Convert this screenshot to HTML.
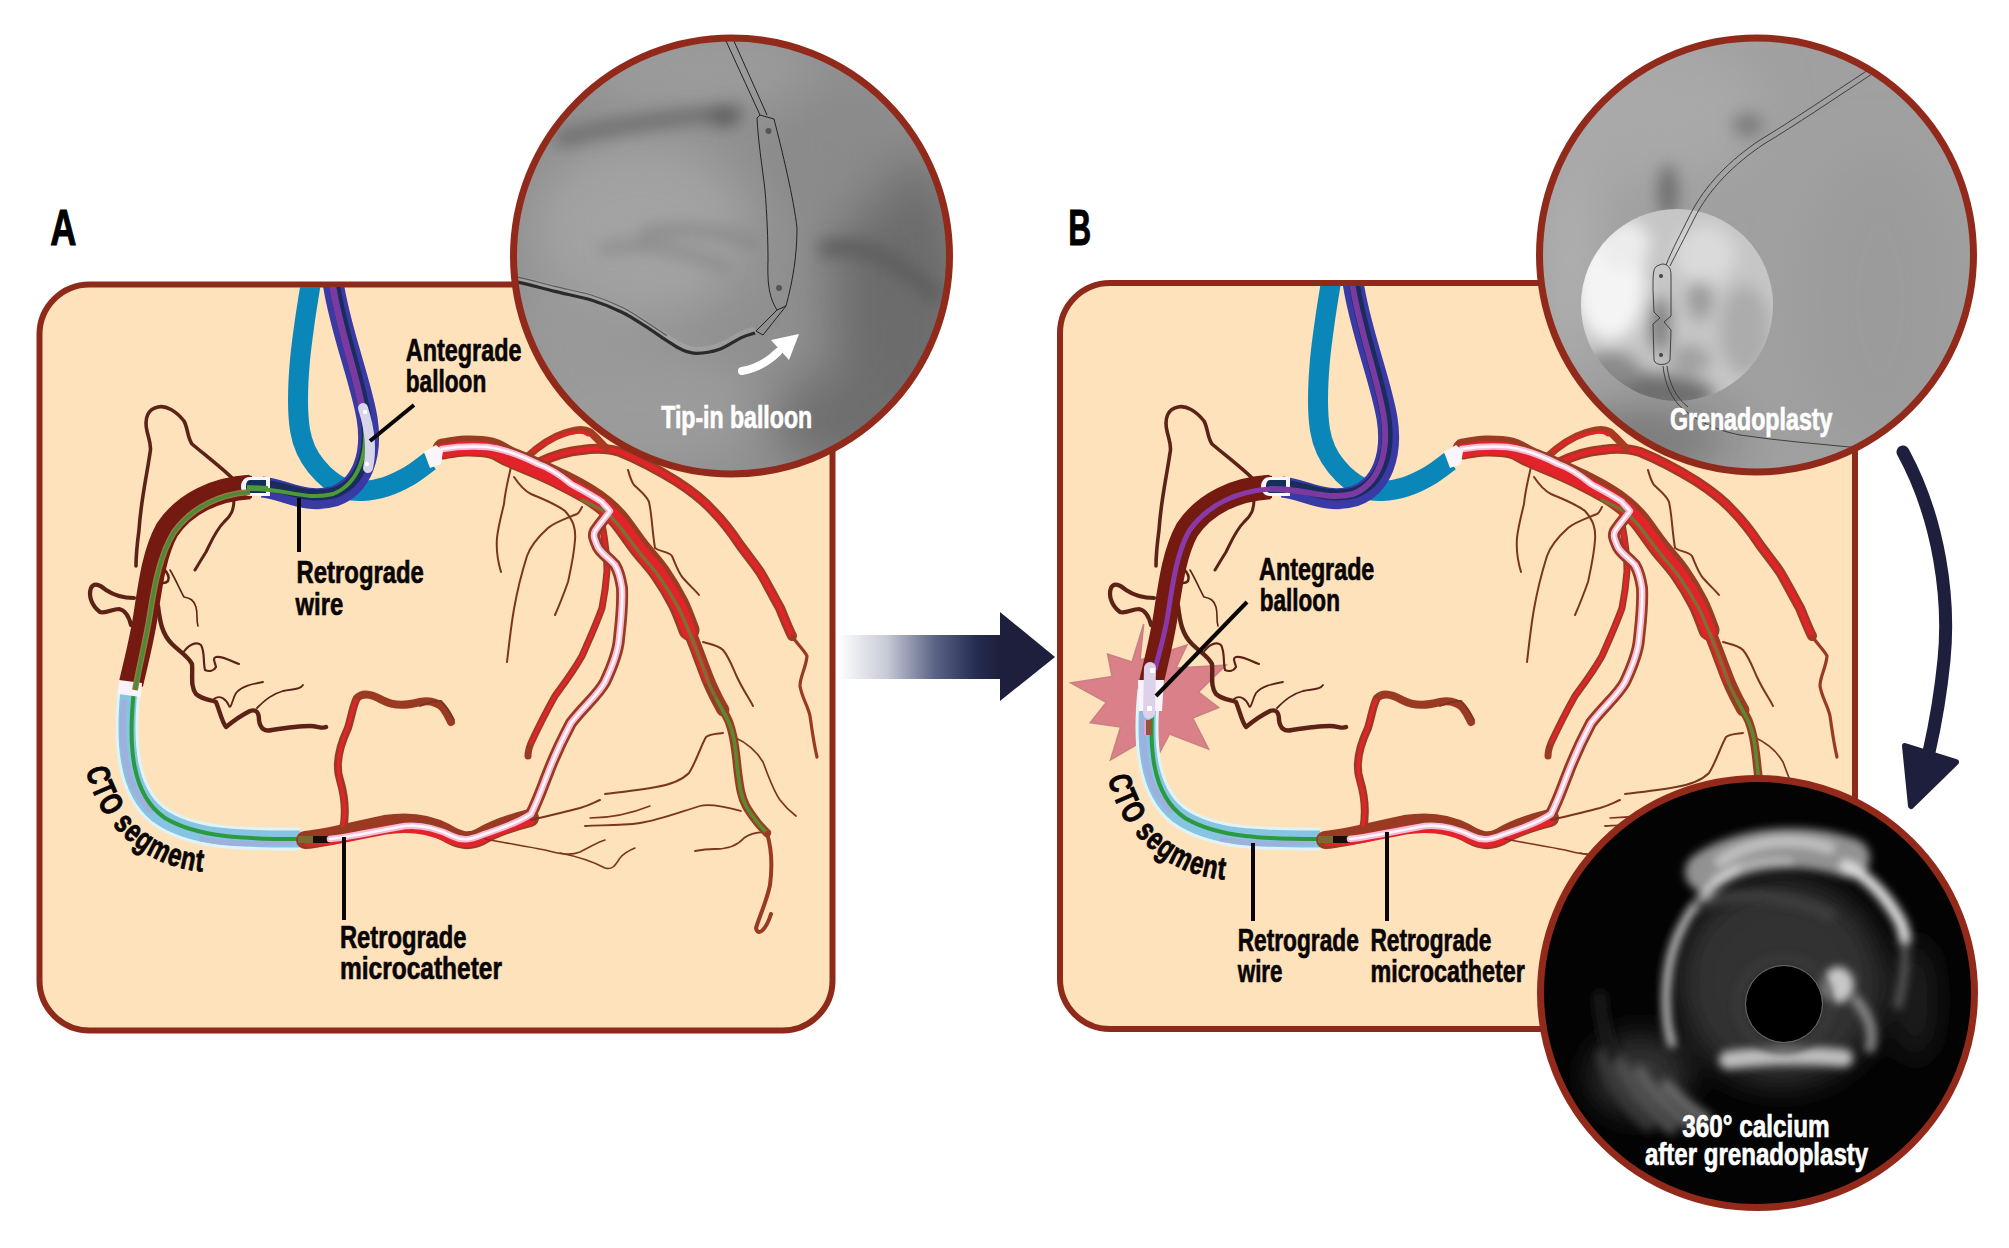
<!DOCTYPE html>
<html><head><meta charset="utf-8"><style>
html,body{margin:0;padding:0;background:#fff;width:2009px;height:1248px;overflow:hidden}
svg{display:block}
text{font-family:"Liberation Sans",sans-serif;font-weight:bold}
</style></head><body>
<svg width="2009" height="1248" viewBox="0 0 2009 1248">
<defs>
  <linearGradient id="arrg" x1="838" y1="0" x2="1000" y2="0" gradientUnits="userSpaceOnUse">
    <stop offset="0" stop-color="#ffffff"/>
    <stop offset="0.3" stop-color="#c8cad6"/>
    <stop offset="0.6" stop-color="#5a6386"/>
    <stop offset="0.85" stop-color="#262c52"/>
    <stop offset="1" stop-color="#1e1f3c"/>
  </linearGradient>
  <clipPath id="clipA"><circle cx="731.5" cy="256" r="218"/></clipPath>
  <clipPath id="clipB"><circle cx="1756.5" cy="255" r="217"/></clipPath>
  <clipPath id="clipC"><ellipse cx="1757.5" cy="993" rx="217" ry="214.5"/></clipPath>
  <clipPath id="clipPA"><rect x="42" y="287" width="788" height="740" rx="47"/></clipPath>
  <clipPath id="clipPB"><rect x="1063" y="286" width="789" height="740" rx="47"/></clipPath>
  <filter id="blur3" x="-50%" y="-50%" width="200%" height="200%"><feGaussianBlur stdDeviation="2.5"/></filter>
  <filter id="blur4" x="-50%" y="-50%" width="200%" height="200%"><feGaussianBlur stdDeviation="4"/></filter>
  <filter id="blur5" x="-50%" y="-50%" width="200%" height="200%"><feGaussianBlur stdDeviation="5"/></filter>
  <filter id="blur8" x="-50%" y="-50%" width="200%" height="200%"><feGaussianBlur stdDeviation="8"/></filter>
  <filter id="blur15" x="-50%" y="-50%" width="200%" height="200%"><feGaussianBlur stdDeviation="15"/></filter>
  <filter id="blur25" x="-50%" y="-50%" width="200%" height="200%"><feGaussianBlur stdDeviation="25"/></filter>
</defs>
<rect width="2009" height="1248" fill="#fff"/>
<rect x="39.5" y="284.5" width="793" height="746" rx="50" fill="#fde2bb" stroke="#8e2a1a" stroke-width="6"/>
<rect x="1060" y="283" width="795" height="746" rx="50" fill="#fde2bb" stroke="#8e2a1a" stroke-width="6"/>
<defs><g id="ves">
<!-- thin RCA branches (dark brown) -->
<g fill="none" stroke="#5c2216" stroke-linecap="round" stroke-linejoin="round">
  <path d="M232,478 C222,468 205,455 192,444 C187,437 188,428 184,421 C176,411 166,405 158,407 C148,409 144,418 147,431 C149,440 152,446 150,453 C146,480 141,500 139,530 C137,545 136,555 136,566" stroke-width="3.6"/>
  <path d="M234,499 C234,510 231,516 224,522 C216,530 212,540 206,552 C201,560 198,565 195,570" stroke-width="3"/>
  <path d="M134,598 C125,598 115,596 106,590 C100,585 94,582 91,588 C88,596 92,606 100,612 C106,614 112,609 119,609 C125,610 129,617 131,625" stroke-width="4.2"/>
  <path d="M158,606 C160,622 162,634 172,644 C180,652 188,656 192,664 C193,675 190,686 196,694 C203,700 212,700 216,702 C220,712 222,722 226,727 C232,722 240,716 250,711 C256,709 259,712 259,720 C260,728 264,732 272,730 C285,728 298,726 310,726 C318,726 322,729 326,727" stroke-width="4.4"/>
  <path d="M183,653 C188,645 196,641 201,645 C205,652 203,662 205,670 C209,672 214,671 216,667 C215,662 212,658 216,657 C224,656 232,662 239,664" stroke-width="2.2"/>
  <path d="M214,699 C220,694 227,700 229,706 C231,710 232,700 236,693 C242,686 252,684 263,682" stroke-width="1.8"/>
  <path d="M257,708 C265,700 272,694 283,691 C292,689 300,690 303,685" stroke-width="1.8"/>
  <path d="M163,568 C167,572 170,577 168,581 C165,584 161,583 160,582" stroke-width="2.5"/>
  <path d="M170,570 C176,580 180,590 184,597 C190,598 194,600 196,607 C198,615 196,620 198,626" stroke-width="1.6"/>
</g>
<!-- RCA main -->
<path d="M250,487 C216,489 185,503 167,530 C155,552 151,580 146,613 C142,640 136,662 131,684" fill="none" stroke="#741a10" stroke-width="24.5" stroke-linecap="butt"/>
<path d="M232,478 C240,476 246,475 252,476 L252,498 C246,499 240,499 232,497 Z" fill="#741a10"/>
<!-- CTO segment -->
<path d="M129,690 C124,740 126,790 158,815 C192,840 245,839 300,839" fill="none" stroke="#dff4f8" stroke-width="23"/>
<path d="M129,690 C124,740 126,790 158,815 C192,840 245,839 300,839" fill="none" stroke="#86c4e2" stroke-width="17"/>
<path d="M124,700 C120,745 124,788 152,812" fill="none" stroke="#9fb0dc" stroke-width="6"/>
<path d="M200,839 C230,845 260,844 295,842" fill="none" stroke="#9fb0dc" stroke-width="5"/>
<path d="M134,690 C128,745 131,795 165,818 C198,838 248,839 300,839" fill="none" stroke="#2b9a3e" stroke-width="4"/>
<!-- white bands -->
<path d="M119,680 L142,683 L141,697 L118,694 Z" fill="#fbf2fa"/>
<!-- septal + PDA red path with microcatheter -->
<g fill="none" stroke-linecap="round" stroke-linejoin="round">
  <!-- second thinner red vessel (left of septal) -->
  <path d="M602,524 C605,540 607,555 607,571 C606,585 604,598 602,608 C596,625 589,640 582,656 C573,672 563,685 555,696 C546,712 538,728 531,743 C529,748 528,752 528,756" stroke="#9a3a22" stroke-width="7"/>
  <path d="M602,526 C605,540 607,555 607,571 C606,585 604,598 602,608 C596,625 589,640 582,656 C573,672 563,685 555,696 C546,712 538,728 531,743" stroke="#e2242a" stroke-width="3.5"/>
  <!-- septal with microcatheter -->
  <path d="M610,511 C606,517 600,523 595,531 C593,535 594,538 597,545 C599,552 608,557 615,565 C618,570 620,575 622,588 C623,605 621,620 619,639 C618,652 613,665 605,682 C598,695 585,705 571,723 C563,738 556,752 548,773 C542,788 538,800 531,814" stroke="#9a3a22" stroke-width="12"/>
  <path d="M610,511 C606,517 600,523 595,531 C593,535 594,538 597,545 C599,552 608,557 615,565 C618,570 620,575 622,588 C623,605 621,620 619,639 C618,652 613,665 605,682 C598,695 585,705 571,723 C563,738 556,752 548,773 C542,788 538,800 531,814" stroke="#e2242a" stroke-width="6"/>
  <!-- thick posterior red -->
  <path d="M305,840 C330,838 355,830 385,824 C410,820 430,824 445,832 C458,840 468,843 480,837 C495,828 510,823 530,818" stroke="#9a3a22" stroke-width="18"/>
  <path d="M308,842 C330,842 355,836 385,830 C410,826 430,830 445,837 C458,843 468,845 480,840 C495,832 510,826 530,821" stroke="#e2242a" stroke-width="9"/>
  <!-- PDA upward -->
  <path d="M343,830 C346,815 346,800 340,780 C335,765 340,745 348,728 C352,715 353,705 357,698 C362,693 370,693 382,700 C395,707 408,705 420,702 C430,700 437,702 443,708 C447,713 449,718 451,722" stroke="#9a3a22" stroke-width="8"/>
  <path d="M343,825 C346,812 345,800 340,782 C336,765 340,745 347,730 C351,718 352,708 356,700" stroke="#e2242a" stroke-width="3.5"/>
</g>
<!-- microcatheter tip -->
<path d="M298,836 L313,836 L313,843 L298,843 Z" fill="#7a6a30"/>
<path d="M313,836 L330,836 L330,843 L313,843 Z" fill="#1a0a08"/>
<!-- LCA thin branches -->
<g fill="none" stroke="#7a3420" stroke-linecap="round" stroke-linejoin="round" stroke-width="2">
  <path d="M511,467 C508,480 505,492 504,504 C501,516 498,528 497,538 C496,550 498,562 501,572"/>
  <path d="M514,477 C520,486 525,491 531,494 C545,500 556,504 565,511 C573,520 576,528 575,540 C574,555 571,568 568,582 C563,596 559,606 555,615"/>
  <path d="M582,507 C580,511 579,513 577,514 C565,519 555,522 548,528 C538,537 531,545 527,556 C521,575 517,592 514,609 C511,626 509,645 507,662"/>
  <path d="M628,470 C630,477 631,481 634,485 C640,491 646,495 649,502 C652,515 652,530 655,548 C660,552 668,551 672,556 C676,565 678,572 683,578 C690,586 695,590 699,595"/>
  <path d="M703,642 C710,644 718,645 723,650 C729,657 732,666 737,677 C743,690 749,698 753,706"/>
  <path d="M723,733 C716,734 710,734 706,737 C700,748 696,762 689,773 C680,782 668,785 656,787 C640,790 622,792 605,794"/>
  <path d="M734,737 C745,742 756,750 763,762 C768,775 773,790 780,800 C786,808 792,813 796,816" stroke-width="1.7"/>
  <path d="M531,820 C548,816 565,812 580,808 C590,805 595,802 600,800"/>
  <path d="M485,839 C505,843 525,846 545,850 C560,854 570,856 580,852 C590,847 598,842 605,840" stroke-width="1.6"/>
  <path d="M560,853 C575,856 590,860 605,868 C612,870 615,866 620,858 C625,852 630,850 635,848" stroke-width="1.5"/>
  <path d="M590,818 C610,818 630,814 650,806" stroke-width="1.4"/>
  <path d="M420,706 C428,703 435,700 441,701 C446,706 450,712 454,720" stroke-width="1.8"/>
  <path d="M741,811 C730,808 712,803 700,806 C680,812 660,820 640,823 C620,826 600,825 585,826" stroke-width="1.8"/>
  <path d="M767,832 C760,832 750,833 744,838 C738,845 730,849 715,849 C705,849 700,850 695,851" stroke-width="1.8"/>
</g>
<!-- main outer vessel -->
<path d="M540,462 C555,455 570,451 582,450 C595,448 608,448 620,452 C640,460 658,470 676,481 C693,492 705,502 713,511 C724,522 732,533 740,545 C748,556 754,563 760,572 C768,585 774,598 780,608 C785,620 788,628 792,636" fill="none" stroke="#a03a22" stroke-width="10" stroke-linecap="round"/>
<path d="M540,462 C555,455 570,451 582,450 C595,448 608,448 620,452 C640,460 658,470 676,481 C693,492 705,502 713,511 C724,522 732,533 740,545 C748,556 754,563 760,572 C768,585 774,598 780,608 C785,620 788,628 792,636" fill="none" stroke="#e2242a" stroke-width="5" stroke-linecap="round"/>
<path d="M792,636 C798,645 804,650 807,656 C806,668 800,676 800,686 C802,698 808,706 810,716 C812,730 814,745 817,757" fill="none" stroke="#9a3a22" stroke-width="3.2" stroke-linecap="round"/>
<!-- upper loop branch -->
<path d="M527,457 C540,445 552,437 565,433 C575,430 583,428 590,432 C596,437 600,442 606,448" fill="none" stroke="#a83a22" stroke-width="7.5" stroke-linecap="round"/>
<path d="M533,451 C545,442 556,436 567,434 C576,432 583,431 588,435" fill="none" stroke="#e2242a" stroke-width="3" stroke-linecap="round"/>
<!-- LAD -->
<path d="M443.0,449.0 C446.7,448.5 457.0,446.2 465.0,446.0 C473.0,445.8 483.5,446.2 491.0,448.0 C498.5,449.8 502.5,453.7 510.0,457.0 C517.5,460.3 527.3,464.2 536.0,468.0 C544.7,471.8 553.3,475.7 562.0,480.0 C570.7,484.3 580.8,489.7 588.0,494.0 C595.2,498.3 599.8,501.7 605.0,506.0 C610.2,510.3 613.3,513.2 619.0,520.0 C624.7,526.8 632.2,538.2 639.0,547.0 C645.8,555.8 653.5,563.7 660.0,573.0 C666.5,582.3 673.2,593.5 678.0,603.0 C682.8,612.5 687.2,625.5 689.0,630.0" fill="none" stroke="#9a3c22" stroke-width="21" stroke-linecap="round"/>
<path d="M689.0,630.0 C690.2,633.0 693.8,642.3 696.0,648.0 C698.2,653.7 699.8,658.3 702.0,664.0 C704.2,669.7 706.7,676.5 709.0,682.0 C711.3,687.5 713.7,692.3 716.0,697.0 C718.3,701.7 721.8,707.8 723.0,710.0" fill="none" stroke="#9a3c22" stroke-width="13" stroke-linecap="round"/>
<path d="M723.0,710.0 C724.0,712.0 727.3,717.7 729.0,722.0 C730.7,726.3 731.8,730.5 733.0,736.0 C734.2,741.5 735.2,748.8 736.0,755.0 C736.8,761.2 737.2,766.8 738.0,773.0 C738.8,779.2 739.7,786.5 741.0,792.0 C742.3,797.5 743.3,801.0 746.0,806.0 C748.7,811.0 753.5,817.5 757.0,822.0 C760.5,826.5 765.3,831.2 767.0,833.0" fill="none" stroke="#9a3c22" stroke-width="8.5" stroke-linecap="round"/>
<path d="M443.0,451.0 C446.7,450.5 457.0,448.2 465.0,448.0 C473.0,447.8 483.5,448.2 491.0,450.0 C498.5,451.8 502.5,455.7 510.0,459.0 C517.5,462.3 527.3,466.2 536.0,470.0 C544.7,473.8 553.3,477.7 562.0,482.0 C570.7,486.3 580.8,491.7 588.0,496.0 C595.2,500.3 599.8,503.7 605.0,508.0 C610.2,512.3 613.3,515.2 619.0,522.0 C624.7,528.8 632.2,540.2 639.0,549.0 C645.8,557.8 653.5,565.7 660.0,575.0 C666.5,584.3 673.2,595.5 678.0,605.0 C682.8,614.5 687.2,627.5 689.0,632.0" fill="none" stroke="#e2242a" stroke-width="14" stroke-linecap="round"/>
<path d="M689.0,632.0 C690.2,635.0 693.8,644.3 696.0,650.0 C698.2,655.7 700.2,661.0 702.0,666.0 C703.8,671.0 706.2,677.7 707.0,680.0" fill="none" stroke="#e2242a" stroke-width="7" stroke-linecap="round"/>
<path d="M582.0,500.0 C585.8,502.0 598.8,507.7 605.0,512.0 C611.2,516.3 613.3,519.3 619.0,526.0 C624.7,532.7 632.2,543.3 639.0,552.0 C645.8,560.7 653.5,568.8 660.0,578.0 C666.5,587.2 673.0,597.7 678.0,607.0 C683.0,616.3 686.7,626.2 690.0,634.0 C693.3,641.8 695.7,648.0 698.0,654.0 C700.3,660.0 702.0,664.7 704.0,670.0 C706.0,675.3 707.8,681.0 710.0,686.0 C712.2,691.0 714.7,695.5 717.0,700.0 C719.3,704.5 721.8,708.8 724.0,713.0 C726.2,717.2 728.3,720.5 730.0,725.0 C731.7,729.5 733.0,735.0 734.0,740.0 C735.0,745.0 735.3,749.5 736.0,755.0 C736.7,760.5 737.2,766.8 738.0,773.0 C738.8,779.2 739.7,786.5 741.0,792.0 C742.3,797.5 743.3,801.0 746.0,806.0 C748.7,811.0 753.7,817.7 757.0,822.0 C760.3,826.3 764.5,830.3 766.0,832.0" fill="none" stroke="#7a7034" stroke-width="3.5" stroke-linecap="round"/>
<path d="M717.0,700.0 C718.2,702.2 721.8,708.8 724.0,713.0 C726.2,717.2 728.3,720.5 730.0,725.0 C731.7,729.5 733.0,735.0 734.0,740.0 C735.0,745.0 735.3,749.5 736.0,755.0 C736.7,760.5 737.2,766.8 738.0,773.0 C738.8,779.2 739.7,786.5 741.0,792.0 C742.3,797.5 743.3,801.0 746.0,806.0 C748.7,811.0 753.7,817.7 757.0,822.0 C760.3,826.3 764.5,830.3 766.0,832.0" fill="none" stroke="#5a8a30" stroke-width="3.5" stroke-linecap="round"/>
<!-- LAD tail -->
<path d="M767,833 C772,850 772,870 770,885 C767,900 760,915 756,928 C758,937 766,930 771,914" fill="none" stroke="#9a3a22" stroke-width="4" stroke-linecap="round"/>
<g fill="none" stroke-linecap="round" stroke-linejoin="round">
  <!-- microcatheter pink core -->
  <path d="M330,839 C355,836 380,830 405,826 C425,824 440,830 452,836 C462,841 470,840 482,835 C495,830 515,825 531,814 C538,800 542,788 548,773 C556,752 563,738 571,723 C585,705 598,695 605,682 C613,665 618,652 619,639 C621,620 623,605 622,588 C620,575 618,570 615,565 C608,557 599,552 597,545 C594,538 593,535 595,531 C600,523 606,517 610,511 C606,506 603,504 602,502 C590,494 580,489 571,484 C560,475 550,468 538,464 C520,455 505,449 487,447 C470,446 455,447 442,449" stroke="#f4bcd6" stroke-width="6.5"/>
  <path d="M330,839 C355,836 380,830 405,826 C425,824 440,830 452,836 C462,841 470,840 482,835 C495,830 515,825 531,814 C538,800 542,788 548,773 C556,752 563,738 571,723 C585,705 598,695 605,682 C613,665 618,652 619,639 C621,620 623,605 622,588 C620,575 618,570 615,565 C608,557 599,552 597,545 C594,538 593,535 595,531 C600,523 606,517 610,511 C606,506 603,504 602,502 C590,494 580,489 571,484 C560,475 550,468 538,464 C520,455 505,449 487,447 C470,446 455,447 442,449" stroke="#fff6fb" stroke-width="2.6"/>
</g>
<!-- blue catheter -->
<path d="M311.0,282.0 C310.0,288.3 306.8,307.0 305.0,320.0 C303.2,333.0 301.2,346.7 300.0,360.0 C298.8,373.3 298.0,388.3 298.0,400.0 C298.0,411.7 298.7,421.7 300.0,430.0 C301.3,438.3 303.3,444.0 306.0,450.0 C308.7,456.0 312.0,461.0 316.0,466.0 C320.0,471.0 325.0,476.2 330.0,480.0 C335.0,483.8 340.7,487.2 346.0,489.0 C351.3,490.8 355.5,491.3 362.0,491.0 C368.5,490.7 377.2,489.5 385.0,487.0 C392.8,484.5 401.5,480.3 409.0,476.0 C416.5,471.7 426.5,463.5 430.0,461.0" fill="none" stroke="#0a87b8" stroke-width="20"/>
<!-- navy catheter -->
<path d="M333,282 C340,330 360,378 367,418 C373,455 362,486 335,496 C305,505 285,489 262,487" fill="none" stroke="#3a3aa6" stroke-width="21"/>
<path d="M334,282 C341,330 360,378 366,418 C371,455 360,484 334,493 C305,500 285,486 262,485" fill="none" stroke="#1a2c5c" stroke-width="11"/>
<!-- RCA ostium white cap -->
<path d="M270,477 L250,477 C244,477 241,482 241,486.5 C241,491 244,496 250,496 L270,496" fill="#faf4fb"/>
<path d="M250,480 L266,480 L266,493 L250,493 C247,493 246,490 246,486.5 C246,483 247,480 250,480 Z" fill="#13305a"/>
<!-- LM ostium white cap -->
<path d="M424,452 L436,445 L443,451 L441,464 L430,468 Z" fill="#faf4fb"/>
</g></defs>
<g clip-path="url(#clipPA)"><use href="#ves"/>
<!-- A: purple upper part of navy catheter and green wire in RCA -->
<path d="M250,492 C220,494 192,507 174,532 C161,553 155,581 150,614 C146,640 140,662 135,690" fill="none" stroke="#9a7a4a" stroke-width="6"/>
<path d="M250,492 C220,494 192,507 174,532 C161,553 155,581 150,614 C146,640 140,662 135,690" fill="none" stroke="#4e8a34" stroke-width="3.5"/>
<path d="M332,282 C339,330 358,378 364,418" fill="none" stroke="#7a3aa0" stroke-width="7"/>
<path d="M364,418 C369,455 358,484 333,494 C305,501 285,488 250,489" fill="none" stroke="#4e9a36" stroke-width="4"/>
<path d="M247,487 L268,488" stroke="#4e9a36" stroke-width="4"/>
<!-- antegrade balloon -->
<path d="M363,408 C370,430 372,450 368,468" fill="none" stroke="#d8d4ea" stroke-width="10" stroke-linecap="round"/>
<circle cx="365" cy="412" r="2.2" fill="#fff"/><circle cx="367" cy="464" r="2.2" fill="#fff"/>
<!-- pointers -->
<path d="M370,441 L414,405" stroke="#0a0506" stroke-width="4"/>
<path d="M299,498 L299,552" stroke="#0a0506" stroke-width="4"/>
<path d="M344,837 L344,920" stroke="#0a0506" stroke-width="4"/>
</g>
<g clip-path="url(#clipPB)"><!-- B: star burst -->
<path d="M1143.7,624 L1140,660 L1187,645 L1176,668 L1226,665 L1198.5,692 L1218.7,707.5 L1192.7,718 L1208.6,749 L1169.6,734 L1160,752 L1148,738 L1110.5,760 L1120.6,727 L1090.3,722.6 L1106.2,702.4 L1070.8,683 L1112,676.4 L1107.6,654 L1132,662 Z" fill="#d98088" stroke="#c98080" stroke-width="1.5" stroke-linejoin="miter"/>
<use href="#ves" transform="translate(1020,0)"/>
<!-- purple wire through navy catheter and RCA -->
<path d="M1352,282 C1359,330 1378,378 1384,418 C1389,455 1378,484 1353,494 C1325,501 1305,488 1270,489" fill="none" stroke="#7a3aa0" stroke-width="6"/>
<path d="M1270,489 C1238,491 1208,504 1189,531 C1177,553 1173,581 1168,614 C1164,640 1158,655 1155,670" fill="none" stroke="#8a3aa8" stroke-width="5"/>
<!-- white band & antegrade balloon at CTO -->
<path d="M1138,680 L1164,680 L1162,711 L1139,711 Z" fill="#fbf3fb"/>
<path d="M1150,668 L1149,713" stroke="#ddd2ea" stroke-width="12" stroke-linecap="round"/>
<rect x="1150" y="668" width="5" height="5" fill="#fff"/><rect x="1147" y="706" width="5" height="5" fill="#fff"/>
<path d="M1146,720 L1152,720 L1152,735 L1146,735 Z" fill="#8a5a3a"/>
<path d="M1144,720 L1146,720 L1146,735 L1144,735 Z" fill="#e8a0d8"/>
<!-- pointers -->
<path d="M1156,696 L1247,602" stroke="#0a0506" stroke-width="4"/>
<path d="M1253,843 L1253,921" stroke="#0a0506" stroke-width="4"/>
<path d="M1387,832 L1387,921" stroke="#0a0506" stroke-width="4"/>
</g>
<path d="M838 635 L1000 635 L1000 612 L1055 657 L1000 701 L1000 679 L838 679 Z" fill="url(#arrg)"/>
<path d="M1903 452 C1940 520 1950 600 1944 660 C1940 700 1934 730 1929 752" fill="none" stroke="#1e1f3c" stroke-width="13" stroke-linecap="round"/>
<path d="M1905 746 L1956 762 L1911 806 Z" fill="#1e1f3c" stroke="#1e1f3c" stroke-width="6" stroke-linejoin="round"/>
<!-- Circle A: fluoroscopy -->
<g clip-path="url(#clipA)">
  <rect x="500" y="30" width="470" height="460" fill="#8f8f8f"/>
  <g filter="url(#blur25)">
    <ellipse cx="640" cy="230" rx="110" ry="90" fill="#a3a3a3"/>
    <ellipse cx="700" cy="70" rx="120" ry="40" fill="#9c9c9c"/>
    <ellipse cx="640" cy="410" rx="120" ry="60" fill="#9b9b9b"/>
    <ellipse cx="900" cy="300" rx="70" ry="150" fill="#6c6c6c"/>
    <ellipse cx="860" cy="420" rx="90" ry="50" fill="#6e6e6e"/>
    <ellipse cx="830" cy="150" rx="70" ry="70" fill="#8a8a8a"/>
    <ellipse cx="560" cy="330" rx="50" ry="60" fill="#999"/>
  </g>
  <g filter="url(#blur8)">
    <path d="M556,140 C600,128 660,118 742,112" stroke="#6e6e6e" stroke-width="16" fill="none"/>
    <ellipse cx="724" cy="117" rx="16" ry="10" fill="#5e5e5e"/>
    <path d="M640,235 C680,225 720,230 760,245" stroke="#858585" stroke-width="10" fill="none"/>
    <path d="M600,250 C640,240 690,250 730,270" stroke="#888" stroke-width="10" fill="none"/>
    <path d="M820,250 C860,240 900,260 940,300" stroke="#5e5e5e" stroke-width="18" fill="none"/>
  </g>
  <!-- guide catheter -->
  <path d="M505.0,281.0 C507.3,281.2 510.7,280.7 519.0,282.4 C527.3,284.1 542.6,288.4 554.8,291.4 C567.0,294.4 580.8,296.8 592.0,300.3 C603.2,303.8 613.3,308.1 622.0,312.3 C630.7,316.5 636.9,321.0 644.4,325.7 C651.9,330.4 660.6,336.6 666.8,340.6 C673.0,344.6 676.7,347.5 681.7,349.6 C686.7,351.7 690.4,353.3 696.6,353.3 C702.8,353.3 711.5,352.2 719.0,349.6 C726.5,347.0 735.4,340.4 741.4,337.6 C747.4,334.8 752.7,333.8 755.0,333.0" fill="none" stroke="#acacac" stroke-width="7" opacity="0.45" transform="translate(0,-3)"/>
  <path d="M505.0,281.0 C507.3,281.2 510.7,280.7 519.0,282.4 C527.3,284.1 542.6,288.4 554.8,291.4 C567.0,294.4 580.8,296.8 592.0,300.3 C603.2,303.8 613.3,308.1 622.0,312.3 C630.7,316.5 636.9,321.0 644.4,325.7 C651.9,330.4 660.6,336.6 666.8,340.6 C673.0,344.6 676.7,347.5 681.7,349.6 C686.7,351.7 690.4,353.3 696.6,353.3 C702.8,353.3 711.5,352.2 719.0,349.6 C726.5,347.0 735.4,340.4 741.4,337.6 C747.4,334.8 752.7,333.8 755.0,333.0" fill="none" stroke="#2a2a2a" stroke-width="3.2"/>
  <path d="M505.0,276.0 C507.3,276.2 510.7,275.7 519.0,277.4 C527.3,279.1 542.6,283.4 554.8,286.4 C567.0,289.4 580.8,291.8 592.0,295.3 C603.2,298.8 613.3,303.1 622.0,307.3 C630.7,311.5 636.9,316.0 644.4,320.7 C651.9,325.4 663.1,333.1 666.8,335.6" fill="none" stroke="#5a5a5a" stroke-width="1.2"/>
  <!-- balloon outline -->
  <g fill="none" stroke="#222" stroke-width="1">
    <path d="M721,30 L760,115 M729,30 L767,115"/>
    <path d="M760,115 L774,119 C782,150 794,200 797,228 C797,255 793,280 786,306 L777,310 C771,300 767,290 768,260 C768,240 767,215 765,190 C762,165 758,140 757,118 Z"/>
    <path d="M777,310 L756,331 L763,335 L786,306"/>
  </g>
  <circle cx="768.5" cy="131" r="3" fill="#555"/>
  <circle cx="779" cy="288" r="3" fill="#555"/>
  <!-- white curved arrow -->
  <path d="M742,371 C758,368 768,362 778,352" fill="none" stroke="#fff" stroke-width="8" stroke-linecap="round"/>
  <path d="M771,340 L799,334 L789,360 Z" fill="#fff"/>
</g>
<circle cx="731.5" cy="256" r="218" fill="none" stroke="#922a1c" stroke-width="7"/>

<!-- Circle B -->
<g clip-path="url(#clipB)">
  <rect x="1530" y="30" width="460" height="460" fill="#a0a0a0"/>
  <g filter="url(#blur25)">
    <ellipse cx="1650" cy="110" rx="110" ry="70" fill="#a9a9a9"/>
    <ellipse cx="1570" cy="260" rx="25" ry="110" fill="#b2b2b2"/>
    <ellipse cx="1660" cy="440" rx="90" ry="40" fill="#8a8a8a"/>
    <ellipse cx="1880" cy="300" rx="80" ry="150" fill="#9b9b9b"/>
  </g>
  <g filter="url(#blur8)">
    <ellipse cx="1668" cy="192" rx="10" ry="28" fill="#6e6e6e"/>
    <ellipse cx="1748" cy="125" rx="15" ry="12" fill="#7c7c7c"/>
  </g>
  <!-- light disk -->
  <clipPath id="diskB"><circle cx="1677" cy="305" r="96"/></clipPath>
  <g clip-path="url(#diskB)">
    <rect x="1570" y="200" width="220" height="220" fill="#c6c6c6"/>
    <g filter="url(#blur8)">
      <ellipse cx="1610" cy="285" rx="35" ry="55" fill="#f4f4f4"/>
      <ellipse cx="1625" cy="245" rx="25" ry="25" fill="#ececec"/>
      <ellipse cx="1705" cy="255" rx="30" ry="30" fill="#dadada"/>
      <ellipse cx="1640" cy="395" rx="75" ry="22" fill="#6e6e6e"/>
      <ellipse cx="1610" cy="370" rx="30" ry="18" fill="#8a8a8a"/>
      <ellipse cx="1745" cy="330" rx="25" ry="45" fill="#acacac"/>
      <ellipse cx="1660" cy="325" rx="10" ry="28" fill="#7c7c7c"/>
      <ellipse cx="1700" cy="300" rx="12" ry="20" fill="#9a9a9a"/>
      <ellipse cx="1690" cy="360" rx="20" ry="15" fill="#a0a0a0"/>
    </g>
  </g>
  <g filter="url(#blur15)">
    <ellipse cx="1640" cy="440" rx="70" ry="25" fill="#7e7e7e"/>
  </g>
  <!-- wire -->
  <g fill="none" stroke="#333" stroke-width="0.9">
    <path d="M1868,70 C1830,95 1790,122 1760,140 C1730,160 1705,185 1690,215 C1680,235 1672,250 1666,265"/>
    <path d="M1872,74 C1834,99 1794,126 1764,144 C1734,164 1709,189 1694,219 C1684,239 1676,254 1670,266"/>
    <path d="M1657,266 C1653,268 1653,275 1653,290 L1654,312 L1660,318 L1653,324 L1654,360 C1655,366 1668,366 1670,360 L1671,330 L1664,322 L1671,316 L1671,275 C1671,268 1668,264 1662,264 Z"/>
    <path d="M1663,366 C1665,385 1672,400 1684,410 C1700,422 1715,430 1740,435 C1780,441 1820,444 1860,448"/>
    <path d="M1667,366 C1669,383 1676,398 1688,407"/>
  </g>
  <circle cx="1661" cy="276" r="2" fill="#444"/>
  <circle cx="1661" cy="355" r="2" fill="#444"/>
</g>
<circle cx="1756.5" cy="255" r="217" fill="none" stroke="#922a1c" stroke-width="7"/>

<!-- Circle C: IVUS -->
<g clip-path="url(#clipC)">
  <rect x="1530" y="770" width="460" height="450" fill="#030303"/>
  <g filter="url(#blur15)">
    <circle cx="1781" cy="982" r="104" fill="#313131"/>
    <ellipse cx="1640" cy="1075" rx="50" ry="40" fill="#303030"/>
    <ellipse cx="1915" cy="1000" rx="18" ry="60" fill="#222"/>
  </g>
  <g filter="url(#blur4)" fill="none" stroke-linecap="round">
    <path d="M1705,872 C1740,848 1800,840 1850,858" stroke="#929292" stroke-width="40"/>
    <path d="M1720,862 C1750,840 1790,836 1830,848" stroke="#c4c4c4" stroke-width="10"/>
    <path d="M1715,880 C1740,865 1760,860 1790,862" stroke="#bdbdbd" stroke-width="6"/>
    <path d="M1672,1044 C1662,1010 1664,960 1683,925 C1693,905 1705,890 1737,869" stroke="#d8d8d8" stroke-width="7"/>
    <path d="M1846,866 C1867,876 1886,896 1900,921 C1904,930 1905,935 1905,940" stroke="#dcdcdc" stroke-width="12"/>
    <path d="M1728,1060 C1760,1056 1800,1054 1844,1058" stroke="#bdbdbd" stroke-width="18"/>
    <path d="M1856,1000 C1868,1015 1875,1030 1870,1048" stroke="#8a8a8a" stroke-width="10"/>
    <path d="M1905,945 C1906,965 1903,985 1898,1005" stroke="#5a5a5a" stroke-width="8"/>
    <path d="M1700,905 C1740,890 1790,895 1830,915" stroke="#3e3e3e" stroke-width="12"/>
  </g>
  <g filter="url(#blur5)">
    <path d="M1706.0,1118.2 A148,148 0 0 1 1666.6,1085.1" stroke="#6a6a6a" stroke-width="12" fill="none" stroke-linecap="round"/>
    <path d="M1689.4,1124.3 A162,162 0 0 1 1639.7,1071.0" stroke="#5e5e5e" stroke-width="12" fill="none" stroke-linecap="round"/>
    <path d="M1671.6,1128.7 A176,176 0 0 1 1619.2,1061.6" stroke="#505050" stroke-width="12" fill="none" stroke-linecap="round"/>
    <path d="M1648.0,1126.7 A190,190 0 0 1 1601.5,1055.0" stroke="#3a3a3a" stroke-width="10" fill="none" stroke-linecap="round"/>
    <path d="M1613.1,1057.4 A180,180 0 0 1 1600.1,996.3" stroke="#1e1e1e" stroke-width="12" fill="none" stroke-linecap="round"/>
  </g>
  <ellipse cx="1838" cy="985" rx="16" ry="18" fill="#c8c8c8" filter="url(#blur4)"/>
  <circle cx="1784" cy="1004" r="46" fill="none" stroke="#3a3a3a" stroke-width="6" filter="url(#blur4)"/>
  <circle cx="1784" cy="1004" r="38" fill="#000"/>
  <circle cx="1784" cy="1004" r="38.5" fill="none" stroke="#6a6a6a" stroke-width="1"/>
</g>
<ellipse cx="1757.5" cy="993" rx="217" ry="214.5" fill="none" stroke="#922a1c" stroke-width="7"/>
<text transform="translate(50.30,244.6) scale(0.7331,1)" font-size="49.5" fill="#000" stroke="#000" stroke-width="1.0">A</text>
<text transform="translate(1068.30,244.6) scale(0.6408,1)" font-size="49.5" fill="#000" stroke="#000" stroke-width="1.0">B</text>
<text transform="translate(405.80,360.7) scale(0.7404,1)" font-size="31.6" fill="#0a0506" stroke="#0a0506" stroke-width="0.7">Antegrade</text>
<text transform="translate(405.80,392.4) scale(0.7166,1)" font-size="31.6" fill="#0a0506" stroke="#0a0506" stroke-width="0.7">balloon</text>
<text transform="translate(296.60,582.9) scale(0.7551,1)" font-size="31.6" fill="#0a0506" stroke="#0a0506" stroke-width="0.7">Retrograde</text>
<text transform="translate(295.57,614.6) scale(0.7548,1)" font-size="31.6" fill="#0a0506" stroke="#0a0506" stroke-width="0.7">wire</text>
<text transform="translate(339.90,947.6) scale(0.7515,1)" font-size="31.6" fill="#0a0506" stroke="#0a0506" stroke-width="0.7">Retrograde</text>
<text transform="translate(340.00,979.4) scale(0.7751,1)" font-size="31.6" fill="#0a0506" stroke="#0a0506" stroke-width="0.7">microcatheter</text>
<text transform="translate(1259.10,579.6) scale(0.7379,1)" font-size="31.6" fill="#0a0506" stroke="#0a0506" stroke-width="0.7">Antegrade</text>
<text transform="translate(1259.80,611.3) scale(0.7130,1)" font-size="31.6" fill="#0a0506" stroke="#0a0506" stroke-width="0.7">balloon</text>
<text transform="translate(1237.70,950.8) scale(0.7189,1)" font-size="31.6" fill="#0a0506" stroke="#0a0506" stroke-width="0.7">Retrograde</text>
<text transform="translate(1237.77,982.4) scale(0.7074,1)" font-size="31.6" fill="#0a0506" stroke="#0a0506" stroke-width="0.7">wire</text>
<text transform="translate(1370.40,950.8) scale(0.7189,1)" font-size="31.6" fill="#0a0506" stroke="#0a0506" stroke-width="0.7">Retrograde</text>
<text transform="translate(1370.40,982.4) scale(0.7387,1)" font-size="31.6" fill="#0a0506" stroke="#0a0506" stroke-width="0.7">microcatheter</text>
<text transform="translate(661.20,427.7) scale(0.7311,1)" font-size="31.6" fill="#fff" stroke="#fff" stroke-width="0.7">Tip-in balloon</text>
<text transform="translate(1669.90,430.0) scale(0.7349,1)" font-size="31.6" fill="#fff" stroke="#fff" stroke-width="0.7">Grenadoplasty</text>
<text transform="translate(1682.30,1136.7) scale(0.7685,1)" font-size="31.6" fill="#fff" stroke="#fff" stroke-width="0.7">360° calcium</text>
<text transform="translate(1644.90,1164.7) scale(0.7618,1)" font-size="31.6" fill="#fff" stroke="#fff" stroke-width="0.7">after grenadoplasty</text>
<text transform="translate(88.1,777.9) rotate(74.0) scale(0.74,1)" font-size="32" fill="#0a0506" stroke="#0a0506" stroke-width="0.9" text-anchor="middle">C</text>
<text transform="translate(93.8,793.9) rotate(66.5) scale(0.74,1)" font-size="32" fill="#0a0506" stroke="#0a0506" stroke-width="0.9" text-anchor="middle">T</text>
<text transform="translate(101.9,809.5) rotate(58.7) scale(0.74,1)" font-size="32" fill="#0a0506" stroke="#0a0506" stroke-width="0.9" text-anchor="middle">O</text>
<text transform="translate(116.7,829.3) rotate(47.8) scale(0.74,1)" font-size="32" fill="#0a0506" stroke="#0a0506" stroke-width="0.9" text-anchor="middle">s</text>
<text transform="translate(126.9,839.4) rotate(41.5) scale(0.74,1)" font-size="32" fill="#0a0506" stroke="#0a0506" stroke-width="0.9" text-anchor="middle">e</text>
<text transform="translate(138.7,848.7) rotate(34.8) scale(0.74,1)" font-size="32" fill="#0a0506" stroke="#0a0506" stroke-width="0.9" text-anchor="middle">g</text>
<text transform="translate(155.0,858.4) rotate(26.5) scale(0.74,1)" font-size="32" fill="#0a0506" stroke="#0a0506" stroke-width="0.9" text-anchor="middle">m</text>
<text transform="translate(171.9,865.3) rotate(18.4) scale(0.74,1)" font-size="32" fill="#0a0506" stroke="#0a0506" stroke-width="0.9" text-anchor="middle">e</text>
<text transform="translate(186.4,869.3) rotate(11.8) scale(0.74,1)" font-size="32" fill="#0a0506" stroke="#0a0506" stroke-width="0.9" text-anchor="middle">n</text>
<text transform="translate(198.7,871.2) rotate(6.3) scale(0.74,1)" font-size="32" fill="#0a0506" stroke="#0a0506" stroke-width="0.9" text-anchor="middle">t</text>
<text transform="translate(1110.1,785.9) rotate(74.0) scale(0.74,1)" font-size="32" fill="#0a0506" stroke="#0a0506" stroke-width="0.9" text-anchor="middle">C</text>
<text transform="translate(1115.8,801.9) rotate(66.5) scale(0.74,1)" font-size="32" fill="#0a0506" stroke="#0a0506" stroke-width="0.9" text-anchor="middle">T</text>
<text transform="translate(1123.9,817.5) rotate(58.7) scale(0.74,1)" font-size="32" fill="#0a0506" stroke="#0a0506" stroke-width="0.9" text-anchor="middle">O</text>
<text transform="translate(1138.7,837.3) rotate(47.8) scale(0.74,1)" font-size="32" fill="#0a0506" stroke="#0a0506" stroke-width="0.9" text-anchor="middle">s</text>
<text transform="translate(1148.9,847.4) rotate(41.5) scale(0.74,1)" font-size="32" fill="#0a0506" stroke="#0a0506" stroke-width="0.9" text-anchor="middle">e</text>
<text transform="translate(1160.7,856.7) rotate(34.8) scale(0.74,1)" font-size="32" fill="#0a0506" stroke="#0a0506" stroke-width="0.9" text-anchor="middle">g</text>
<text transform="translate(1177.0,866.4) rotate(26.5) scale(0.74,1)" font-size="32" fill="#0a0506" stroke="#0a0506" stroke-width="0.9" text-anchor="middle">m</text>
<text transform="translate(1193.9,873.3) rotate(18.4) scale(0.74,1)" font-size="32" fill="#0a0506" stroke="#0a0506" stroke-width="0.9" text-anchor="middle">e</text>
<text transform="translate(1208.4,877.3) rotate(11.8) scale(0.74,1)" font-size="32" fill="#0a0506" stroke="#0a0506" stroke-width="0.9" text-anchor="middle">n</text>
<text transform="translate(1220.7,879.2) rotate(6.3) scale(0.74,1)" font-size="32" fill="#0a0506" stroke="#0a0506" stroke-width="0.9" text-anchor="middle">t</text>
</svg>
</body></html>
